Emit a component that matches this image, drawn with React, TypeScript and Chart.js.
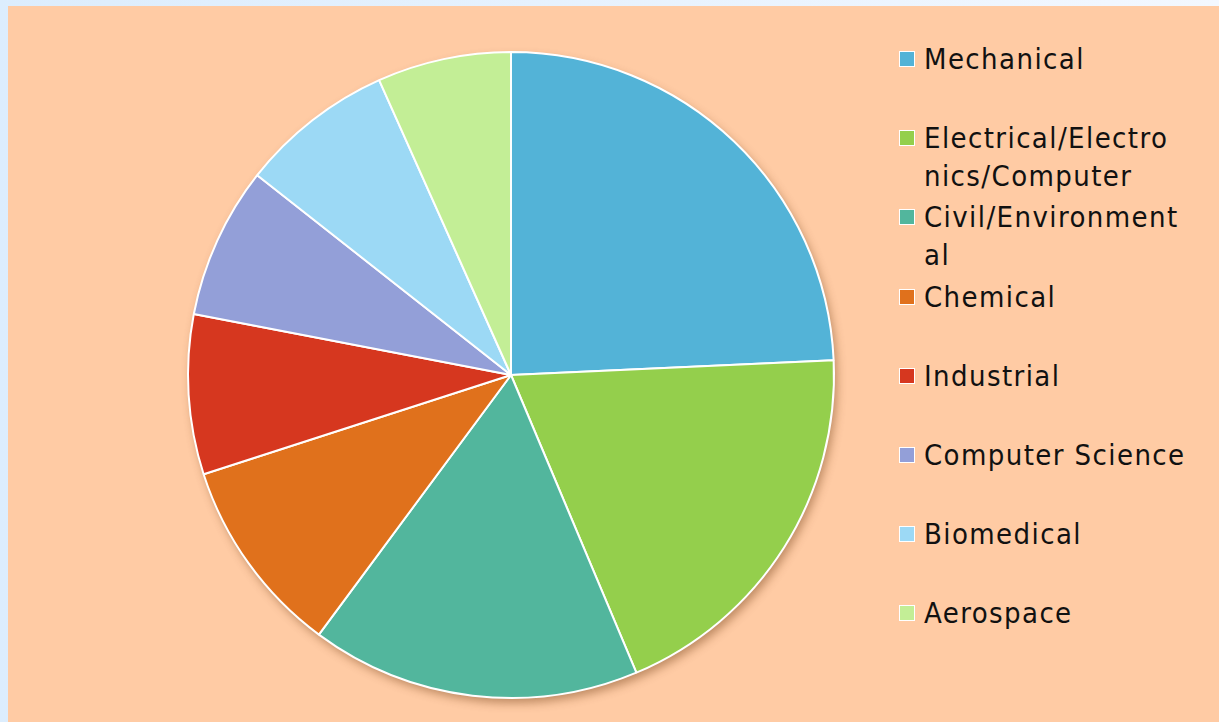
import React, { useEffect, useRef } from "react";
import { Chart, registerables } from "chart.js";

Chart.register(...registerables);

const categories = [
  "Mechanical",
  "Electrical/Electronics/Computer",
  "Civil/Environmental",
  "Chemical",
  "Industrial",
  "Computer Science",
  "Biomedical",
  "Aerospace",
];

const legendLines = [
  ["Mechanical"],
  ["Electrical/Electro", "nics/Computer"],
  ["Civil/Environment", "al"],
  ["Chemical"],
  ["Industrial"],
  ["Computer Science"],
  ["Biomedical"],
  ["Aerospace"],
];

const shares = [24.3, 19.4, 16.5, 9.9, 8.0, 7.6, 7.7, 6.7];

const colors = [
  "#53B3D7",
  "#94CF4C",
  "#52B69D",
  "#E0711C",
  "#D6371F",
  "#939FD8",
  "#9CD9F5",
  "#C3EE96",
];

const PEACH = "#FFCBA4";

const shadowPlugin = {
  id: "pieShadow",
  beforeDatasetsDraw(chart: any) {
    const meta = chart.getDatasetMeta(0);
    const arc = meta.data[0] as any;
    if (!arc) return;
    const { x, y, outerRadius } = arc;
    const ctx = chart.ctx;
    ctx.save();
    ctx.shadowColor = "rgba(110,60,20,0.45)";
    ctx.shadowBlur = 10;
    ctx.shadowOffsetX = 3;
    ctx.shadowOffsetY = 5;
    ctx.fillStyle = PEACH;
    ctx.beginPath();
    ctx.arc(x, y, outerRadius, 0, Math.PI * 2);
    ctx.fill();
    ctx.restore();
  },
};

export default function App() {
  const canvasRef = useRef<HTMLCanvasElement | null>(null);

  useEffect(() => {
    if (!canvasRef.current) return;
    const chart = new Chart(canvasRef.current, {
      type: "pie",
      data: {
        labels: categories,
        datasets: [
          {
            data: shares,
            backgroundColor: colors,
            borderColor: "#FFFFFF",
            borderWidth: 2,
          },
        ],
      },
      options: {
        responsive: false,
        animation: false,
        layout: { padding: 26 },
        plugins: {
          legend: { display: false },
          tooltip: { enabled: false },
        },
      },
      plugins: [shadowPlugin],
    });
    return () => chart.destroy();
  }, []);

  return (
    <div
      style={{
        position: "fixed",
        left: 0,
        top: 0,
        width: 1219,
        height: 722,
        background: "linear-gradient(to right, #DCEDFD, #F3F8FF)",
        overflow: "hidden",
      }}
    >
      <div
        style={{
          position: "absolute",
          left: 8,
          top: 6,
          right: 0,
          bottom: 0,
          background: PEACH,
        }}
      />
      <canvas
        ref={canvasRef}
        width={700}
        height={700}
        style={{ position: "absolute", left: 161, top: 25, width: 700, height: 700 }}
      />
      {legendLines.map((lines, i) => {
        const cy = 59 + 79.2 * i;
        return (
          <div key={categories[i]}>
            <div
              style={{
                position: "absolute",
                left: 899,
                top: cy - 8,
                width: 14,
                height: 14,
                background: colors[i],
                border: "1.5px solid #FFFFFF",
              }}
            />
            <div
              style={{
                position: "absolute",
                left: 924,
                top: cy - 19,
                fontFamily: '"DejaVu Sans Condensed", "DejaVu Sans", sans-serif',
                fontSize: 29,
                letterSpacing: 1.4,
                lineHeight: "38px",
                color: "#111111",
                whiteSpace: "nowrap",
              }}
            >
              {lines.map((l, j) => (
                <div key={j}>{l}</div>
              ))}
            </div>
          </div>
        );
      })}
    </div>
  );
}
